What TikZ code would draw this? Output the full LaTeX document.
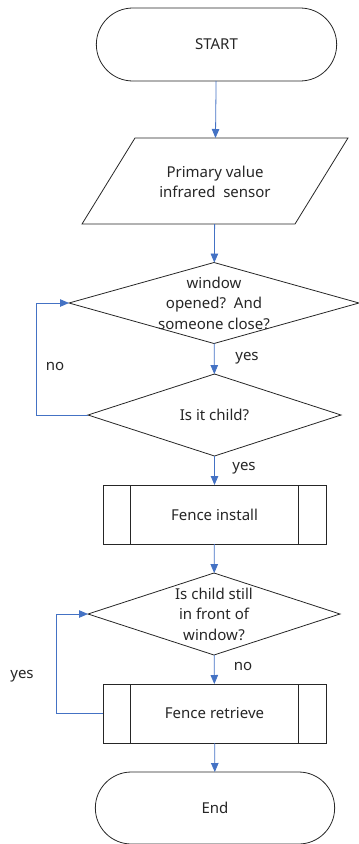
\documentclass[tikz,border=0pt]{standalone}
\usepackage{fontspec}
\setmainfont{Noto Sans}
\usepackage{xcolor}
\definecolor{fblue}{HTML}{4472C4}
\definecolor{fgray}{HTML}{262626}
\usetikzlibrary{shapes,arrows.meta,calc}
\tikzstyle{l1}=[line width=0.8, draw=fgray]
\tikzstyle{term}=[l1, rounded rectangle, outer sep=0, minimum width=247pt, minimum height=73pt]
\tikzstyle{io}=[l1, rectangle, xslant=0.616, transform shape, outer sep=0, minimum width=213pt, minimum height=86pt]
\tikzstyle{dec}=[l1, diamond, inner sep=0pt, outer sep=0]
\tikzstyle{proc}=[l1, rectangle, outer sep=0, minimum width=223pt, minimum height=59pt]
\tikzstyle{txt}=[align=center, text=fgray]
\tikzstyle{arr}=[line width=0.8, draw=fblue, -{Triangle[length=9pt,width=7.5pt]}]

\begin{document}
\begin{tikzpicture}[x=1pt,y=-1pt,font=\fontsize{15}{20.5}\selectfont,text=fgray]
    \useasboundingbox (0,0) rectangle (359,844);
    \node[term] (start) at (216.5, 44.5) {START};
    \node[shift={(215,181)}, io] (sensor) at (0,0) {};
    \node[txt] (sensort) at (215, 182) {Primary value\\infrared~~sensor};
    \node[dec, minimum width=290pt, minimum height=81pt] (open) at (214, 303) {};
    \node[txt] (opent) at (open) {window\\opened?~~And\\someone close?};
    \node[dec, minimum width=253pt, minimum height=82pt] (child) at (214.5, 415) {};
    \node[txt] (childt) at (child) {Is it child?};
    \node[proc] (install) at (214.5, 514.5) {Fence install};
    \node[dec, minimum width=252pt, minimum height=82pt] (still) at (214, 614) {};
    \node[txt] (stillt) at (still) {Is child still\\in front of\\window?};
    \node[proc] (retrieve) at (214.5, 713.5) {Fence retrieve};
    \node[term, minimum width=246pt, minimum height=72pt] (end) at (215, 808) {End};

    % sub-process bars
    \draw[l1] ([xshift=27pt]install.north west) -- ([xshift=27pt]install.south west);
    \draw[l1] ([xshift=-28pt]install.north east) -- ([xshift=-28pt]install.south east);
    \draw[l1] ([xshift=27pt]retrieve.north west) -- ([xshift=27pt]retrieve.south west);
    \draw[l1] ([xshift=-28pt]retrieve.north east) -- ([xshift=-28pt]retrieve.south east);

    \draw[arr] (start) -- (sensor);
    \draw[arr] (sensor) -- (open);
    \draw[arr] (open) -- (child);
    \draw[arr] (child) -- (install);
    \draw[arr] (install) -- (still);
    \draw[arr] (still) -- (retrieve);
    \draw[arr] (retrieve) -- (end);

    \coordinate (back1) at (36, 415);
    \coordinate (back2) at (56, 713.5);
    \draw[arr] (child.west) -- (back1) |- (open.west);
    \draw[arr] (retrieve.west) -- (back2) |- (still.west);

    \node (yes1) at (247, 358) {yes};
    \node (no1)  at (55, 366) {no};
    \node (yes2) at (244, 468) {yes};
    \node (no2)  at (243, 666) {no};
    \node (yes3) at (22, 676) {yes};
\end{tikzpicture}
\end{document}
